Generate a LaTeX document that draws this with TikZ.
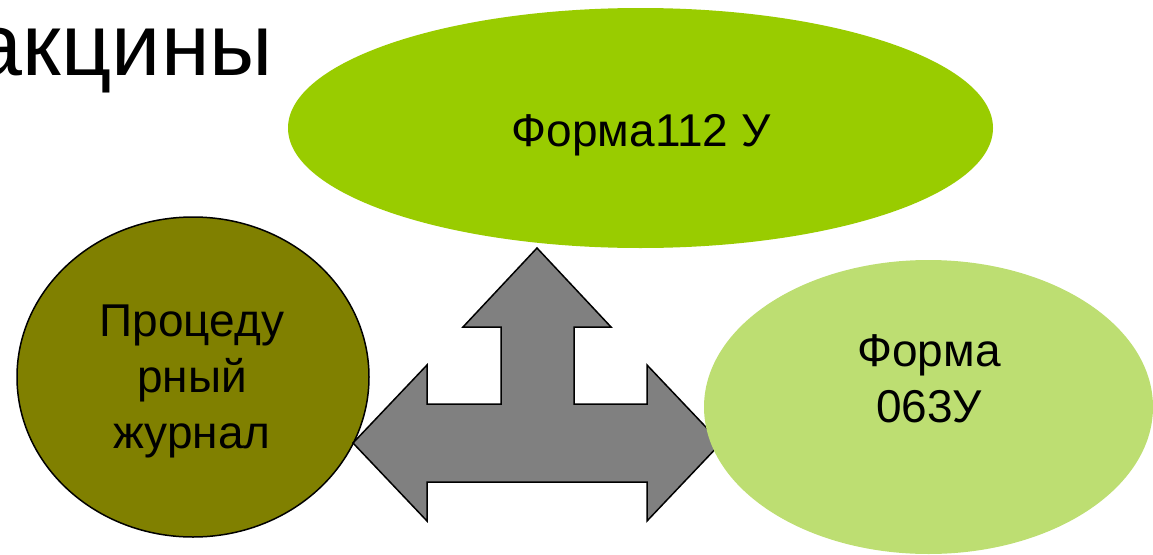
\documentclass[tikz,border=0pt]{standalone}
\usepackage{fontspec}
\setmainfont{Liberation Sans}
\usetikzlibrary{shapes.geometric}
\definecolor{topgreen}{RGB}{153,204,0}
\definecolor{olivefill}{RGB}{128,128,0}
\definecolor{lightgreen}{RGB}{189,222,114}
\definecolor{arrowgray}{RGB}{128,128,128}
\begin{document}
\begin{tikzpicture}[x=1pt,y=-1pt,
  blob/.style={ellipse, inner sep=0pt, outer sep=0pt},
  lbl/.style={font=\fontsize{46}{56}\selectfont, align=center, inner sep=0pt, text=black},
  outline/.style={draw=black, line width=1.5pt}]
\useasboundingbox (0,0) rectangle (1153,554);
\clip (0,0) rectangle (1153,554);
% title (cut off at the left edge)
\node[font=\fontsize{88}{100}\selectfont, anchor=base east, inner sep=0pt] (title) at (273,75) {акцины};
% shapes
\node[blob, fill=topgreen, minimum width=705pt, minimum height=240pt] (f112) at (640.5,128) {};
\node[blob, fill=olivefill, outline, minimum width=352pt, minimum height=320pt] (proc) at (193,377) {};
\draw[fill=arrowgray, draw=black, line width=1.5pt, line join=miter]
  (537,248) coordinate (tipup) -- (611,327) -- (574,327) -- (574,404) -- (647,404) -- (647,365)
  -- (721,443) coordinate (tipright) -- (647,521) -- (647,482) -- (427,482) -- (427,521)
  -- (353,443) coordinate (tipleft) -- (427,365) -- (427,404) -- (501,404) -- (501,327) -- (463,327) -- cycle;
\node[blob, fill=lightgreen, minimum width=449pt, minimum height=294pt] (f063) at (928.5,407) {};
% labels
\node[lbl, anchor=base] (t112) at (641,146) {Форма112 У};
\node[lbl] (tproc) at (192,381) {Процеду\\рный\\журнал};
\node[lbl] (t063) at (929,379) {Форма\\063У};
\end{tikzpicture}
\end{document}
